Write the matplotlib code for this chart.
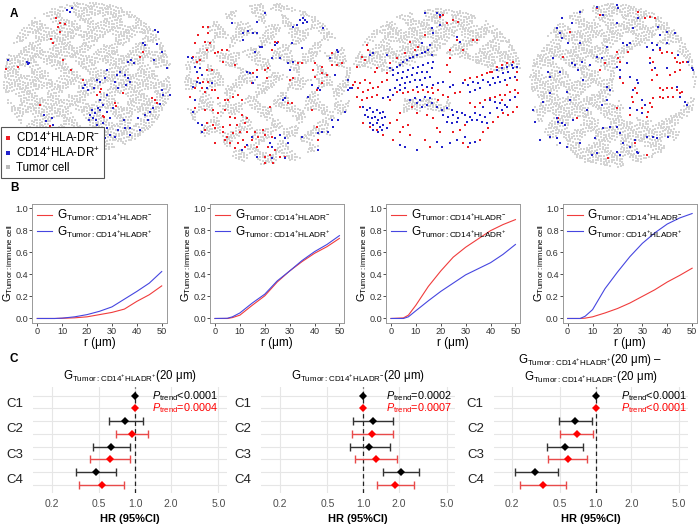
import numpy as np
import matplotlib
matplotlib.use('Agg')
import matplotlib.pyplot as plt
from matplotlib.lines import Line2D

plt.rcParams['font.family'] = ['Liberation Sans', 'DejaVu Sans']
plt.rcParams['mathtext.fontset'] = 'custom'
plt.rcParams['mathtext.rm'] = 'Liberation Sans'
plt.rcParams['mathtext.it'] = 'Liberation Sans:italic'
plt.rcParams['mathtext.bf'] = 'Liberation Sans:bold'

W, H = 698, 528
RED = '#ee1c24'
BLUE = '#2222cc'
GRAY = '#d4d4d4'

# ---------------- Panel A data (cell positions, local tissue units) ----------------
a1_red = [(167,55),(180,70),(195,72),(175,80),(180,95),(153,117),(158,128),(190,180),(212,210),(18,208),(55,200),
          (250,240),(300,275),(292,285),(303,268),(120,315),(345,310),(348,318),(370,280),(420,172),(430,157),
          (455,295),(470,310),(465,300),(312,350),(150,378),(309,348)]
a1_blue = [(200,30),(210,36),(216,24),(465,90),(474,96),(430,130),(436,136),(470,132),(462,180),(486,156),(500,205),
           (24,180),(80,186),(84,192),(88,190),(384,186),(393,180),(402,189),(360,216),(375,225),(384,234),(351,225),
           (390,246),(378,255),(249,264),(264,270),(282,264),(255,255),(291,240),(300,246),(315,234),(321,210),
           (345,246),(354,264),(321,285),(300,300),(309,315),(294,324),(285,339),(279,354),(288,360),(270,345),
           (267,360),(276,330),(300,330),(321,336),(339,324),(330,354),(309,369),(291,375),(321,384),(354,390),
           (375,384),(390,405),(345,411),(315,414),(414,354),(435,345),(450,336),(459,324),(480,312),(444,360),
           (486,270),(489,285),(156,354),(159,375),(132,345),(138,363),(126,390),(165,390),(372,360),(390,384),
           (420,390),(510,285),(330,405),(300,395)]

a2_red = [(85,80),(100,80),(70,105),(100,100),(90,125),(105,130),(60,130),(95,150),(55,170),(65,185),(75,180),(120,160),
          (130,155),(140,150),(155,150),(145,185),(95,210),(110,210),(100,245),(85,245),(70,235),(60,265),(80,265),
          (90,275),(110,270),(120,270),(45,290),(130,295),(150,300),(160,300),(175,290),(190,285),(200,300),(180,195),
          (230,250),(235,220),(245,210),(270,210),(275,235),(290,150),(300,125),(310,125),(280,205),(285,320),(340,310),
          (350,310),(60,325),(90,330),(115,330),(130,340),(150,330),(165,350),(180,355),(200,345),(215,355),(95,370),
          (115,375),(145,380),(165,375),(185,375),(210,370),(90,390),(120,385),(145,395),(155,410),(175,400),(195,395),
          (215,395),(240,395),(265,390),(150,420),(165,430),(190,430),(205,420),(230,420),(250,410),(270,405),(290,410),
          (120,430),(180,445),(210,440),(245,440),(280,440),(300,450),(270,470),(285,465),(295,490),(270,490),(315,470),
          (330,470),(420,190),(415,210),(420,230),(440,200),(470,160),(470,195),(485,195),(500,190),(440,220),(455,225),
          (425,270),(440,250),(425,380),(430,420),(345,240),(355,235),(370,190),(380,190),(410,330)]
a2_blue = [(170,70),(245,65),(270,40),(355,80),(365,75),(375,60),(385,55),(390,60),(385,70),(395,65),(445,85),(485,150),
           (490,155),(465,175),(205,98),(220,92),(235,100),(245,100),(205,120),(255,140),(260,140),(240,155),(300,135),
           (305,130),(350,130),(380,145),(290,175),(315,175),(340,190),(345,210),(355,185),(40,170),(50,175),(60,200),
           (75,205),(65,215),(80,225),(65,245),(75,250),(55,260),(95,265),(110,250),(60,300),(55,335),(70,370),(80,375),
           (80,395),(215,215),(225,220),(245,230),(235,250),(330,295),(325,300),(410,255),(430,265),(435,270),(400,290),
           (480,225),(520,240),(525,265),(520,270),(510,335),(470,360),(490,360),(475,380),(440,395),(430,400),(460,395),
           (430,450),(315,405),(300,415),(330,415),(340,430),(285,430),(290,440),(215,435),(230,410),(330,475),(290,475),
           (245,470),(200,450),(380,410)]

a3_red = [(50,135),(55,150),(20,200),(45,180),(35,170),(75,215),(80,205),(15,245),(30,250),(45,240),(60,250),(25,265),
          (40,275),(55,270),(70,265),(85,260),(95,245),(110,240),(20,290),(35,300),(50,295),(65,290),(80,285),(140,275),
          (160,280),(175,275),(190,270),(205,275),(220,270),(235,275),(250,280),(265,270),(280,285),(295,290),(315,280),
          (330,275),(345,240),(360,235),(380,230),(395,225),(410,220),(425,215),(440,200),(455,195),(470,190),(490,185),
          (500,215),(500,240),(110,220),(120,190),(140,175),(165,160),(195,150),(205,140),(225,105),(290,195),(300,215),
          (300,175),(300,150),(320,120),(340,150),(370,120),(380,120),(420,215),(310,60),(290,70),(325,65),(270,50),
          (280,45),(180,125),(30,320),(40,370),(60,380),(80,390),(100,405),(120,370),(140,360),(150,340),(160,380),
          (175,375),(200,340),(230,345),(250,355),(260,385),(270,395),(225,420),(240,440),(310,395),(330,390),(345,375),
          (340,430),(355,440),(390,420),(400,395),(415,385),(430,365),(445,350),(460,340),(475,345),(490,335),(500,320),
          (495,270),(480,275),(465,285),(450,285),(435,290),(420,295),(405,300),(390,310),(375,320),(360,310),(180,405),
          (150,395),(130,420),(245,265),(265,300),(185,320),(120,300),(10,255),(505,280),(470,255),(455,300)]
a3_blue = [(225,40),(260,40),(270,45),(245,85),(250,100),(270,75),(215,130),(240,135),(330,125),(320,110),
           (120,205),(130,210),(140,200),(150,195),(160,185),(170,180),(180,175),(190,170),(200,165),(215,160),(225,155),
           (235,150),(245,165),(130,225),(145,220),(160,215),(175,210),(190,205),(205,200),(220,195),(235,190),(250,185),
           (140,240),(155,235),(170,230),(185,225),(200,220),(215,215),(230,215),(245,205),(150,255),(165,250),(180,245),
           (195,240),(210,240),(225,235),(240,230),(120,270),(135,265),(150,270),(165,265),(60,165),(70,160),(110,165),
           (200,260),(215,255),(230,260),(250,255),(265,250),(280,245),(300,260),(310,255),(100,295),(115,290),(130,285),
           (180,300),(195,295),(210,300),(225,290),(240,295),(40,320),(50,330),(60,325),(70,335),(80,330),(90,340),
           (100,335),(45,345),(55,350),(65,355),(75,350),(85,360),(95,355),(105,350),(60,370),(70,375),(80,370),(90,380),
           (100,375),(70,390),(85,395),(95,390),(110,385),(200,310),(215,320),(230,315),(245,310),(260,320),(275,330),
           (290,325),(305,330),(320,335),(280,345),(295,350),(310,345),(325,355),(290,365),(305,370),(320,365),(335,340),
           (345,345),(360,350),(375,340),(390,345),(405,350),(350,365),(365,360),(380,360),(395,365),(410,370),(420,340),
           (340,250),(355,255),(370,245),(385,250),(400,240),(415,245),(430,235),(445,230),(460,220),(475,215),(490,205),
           (500,200),(440,210),(455,205),(470,200),(485,195),(420,255),(435,250),(450,245),(465,240),(480,235),(495,230),
           (360,275),(375,270),(390,265),(420,300),(435,305),(450,310),(465,315),(480,300),(495,290),(440,325),(455,330),
           (470,320),(400,320),(150,435),(165,440),(200,450),(260,425),(275,440),(300,430),(320,420),(345,410),(360,430),
           (375,425),(5,265)]

a4_red = [(240,45),(230,25),(355,35),(375,55),(390,50),(405,55),(150,95),(130,170),(255,190),(240,210),(290,155),
          (295,175),(300,185),(325,155),(300,235),(310,250),(345,265),(350,280),(335,290),(340,305),(390,175),(400,185),
          (395,210),(410,225),(420,150),(425,160),(440,155),(455,160),(465,175),(470,185),(480,190),(490,185),(500,185),
          (465,215),(480,210),(420,265),(430,270),(440,265),(455,265),(470,270),(485,275),(400,295),(420,290),(430,295),
          (445,290),(460,290),(480,280),(390,310),(395,320),(385,335),(365,325),(380,350),(290,325),(170,355),(115,355),
          (345,430),(380,465),(265,475),(330,345),(450,225),(395,240)]
a4_blue = [(125,55),(110,85),(155,70),(180,35),(230,20),(290,15),(295,25),(250,45),(290,70),(340,85),(355,55),(415,80),
           (420,105),(440,95),(465,100),(180,130),(145,130),(125,115),(120,100),(100,175),(155,190),(165,195),(185,185),
           (210,195),(260,140),(230,170),(245,175),(310,130),(320,135),(330,130),(290,200),(300,210),(330,230),(350,240),
           (355,250),(340,270),(365,300),(375,315),(330,325),(350,330),(365,340),(395,130),(410,135),(400,150),(420,145),
           (440,130),(475,165),(505,185),(515,205),(520,210),(440,205),(405,205),(480,290),(495,305),(500,315),(85,215),
           (90,230),(120,215),(175,210),(190,240),(90,280),(140,275),(150,300),(70,305),(40,330),(45,365),(110,355),
           (115,365),(125,370),(135,375),(160,360),(90,410),(110,415),(120,430),(140,440),(180,430),(225,415),(250,385),
           (270,380),(290,380),(300,400),(310,430),(330,440),(345,420),(350,455),(355,460),(380,410),(400,410),(410,415),
           (445,410),(215,465),(230,460),(290,455),(300,465),(200,330),(245,315),(260,300),(60,420),(390,190),(380,140),
           (470,260),(260,260),(270,270),(300,230),(320,190)]

# tissue outlines (centre x, centre y, radius x, radius y)
tissue = [(262, 232, 252, 226), (278, 252, 252, 243), (262, 240, 258, 215), (280, 255, 250, 245)]

# ---------------- Panel B data ----------------
r_um = [0, 5, 7, 10, 15, 20, 25, 30, 35, 40, 45, 50]
g_neg = [[0, 0, 0, 0.002, 0.006, 0.015, 0.035, 0.055, 0.085, 0.155, 0.215, 0.295],
         [0, 0, 0.008, 0.03, 0.12, 0.205, 0.33, 0.43, 0.515, 0.59, 0.65, 0.725],
         [0, 0.005, 0.03, 0.12, 0.29, 0.43, 0.555, 0.645, 0.72, 0.795, 0.85, 0.895],
         [0, 0, 0.003, 0.015, 0.05, 0.09, 0.14, 0.20, 0.26, 0.33, 0.39, 0.455]]
g_pos = [[0, 0, 0, 0.003, 0.015, 0.035, 0.065, 0.105, 0.175, 0.245, 0.32, 0.425],
         [0, 0.002, 0.015, 0.05, 0.14, 0.22, 0.34, 0.43, 0.525, 0.605, 0.67, 0.75],
         [0, 0, 0.015, 0.07, 0.16, 0.245, 0.32, 0.395, 0.45, 0.505, 0.58, 0.67],
         [0, 0, 0.02, 0.08, 0.27, 0.42, 0.56, 0.68, 0.775, 0.855, 0.91, 0.95]]

# ---------------- Panel C data ----------------
clusters = ['C1', 'C2', 'C3', 'C4']
hr_black = [[1.0, 0.82, 0.63, 0.47], [1.0, 1.20, 1.12, 2.06], [1.0, 0.67, 0.55, 0.31]]
lo_black = [[1.0, 0.61, 0.44, 0.32], [1.0, 0.82, 0.77, 1.45], [1.0, 0.49, 0.39, 0.21]]
hi_black = [[1.0, 1.16, 0.90, 0.69], [1.0, 1.76, 1.67, 2.93], [1.0, 0.94, 0.78, 0.48]]
hr_red = [[1.0, 0.95, 0.62, 0.53], [1.0, 1.19, 1.28, 1.85], [1.0, 0.70, 0.59, 0.36]]
lo_red = [[1.0, 0.69, 0.42, 0.34], [1.0, 0.80, 0.85, 1.31], [1.0, 0.50, 0.40, 0.23]]
hi_red = [[1.0, 1.28, 0.91, 0.81], [1.0, 1.76, 1.93, 2.68], [1.0, 0.95, 0.85, 0.56]]
p_black = ['<0.0001', '=0.0002', '<0.0001']
p_red = ['=0.0004', '=0.0007', '<0.0001']
hr_ticks = [0.2, 0.5, 1.0, 2.0, 5.0]

fig = plt.figure(figsize=(W / 100, H / 100), dpi=100)


def px_axes(l, t, r, b):
    return fig.add_axes([l / W, 1 - b / H, (r - l) / W, (b - t) / H])


# ---------------- Panel A ----------------
boxes = [(0, 0, 180, 195), (175, 0, 355, 195), (350, 0, 530, 195), (520, 0, 698, 195)]
reds = [a1_red, a2_red, a3_red, a4_red]
blues = [a1_blue, a2_blue, a3_blue, a4_blue]
for k in range(4):
    l, t, r, b = boxes[k]
    ax = px_axes(l, t, r, b)
    ax.set_xlim(0, (r - l) * 3)
    ax.set_ylim((b - t) * 3, 0)
    ax.axis('off')
    ax.patch.set_visible(False)
    cx, cy, rx, ry = tissue[k]
    gx, gy = np.meshgrid(np.arange(cx - rx, cx + rx, 8.0), np.arange(cy - ry, cy + ry, 8.0))
    gx = gx.ravel(); gy = gy.ravel()
    gx = gx + 3 * np.sin(gy * 0.7)
    gy = gy + 3 * np.cos(gx * 0.9)
    inside = ((gx - cx) / rx) ** 2 + ((gy - cy) / ry) ** 2 < 1
    tex = np.sin(gx / 13 + 2 * np.sin(gy / 21)) + np.sin(gy / 12 + 1.5 * np.cos(gx / 17))
    if k == 0:
        keep = inside & (tex > -0.9)
    elif k == 1:
        keep = inside & (tex > 0.0)
    elif k == 2:
        band = gy < 190 + 25 * np.sin(gx / 60)
        band2 = (gy > 295) & (gy < 335) & (gx > 160) & (gx < 300)
        keep = inside & (band | band2) & (tex > -1.0)
    else:
        hole = ((gx - 400) / 120) ** 2 + ((gy - 245) / 115) ** 2 < 1
        keep = inside & ~hole & (tex > -0.9)
    ax.scatter(gx[keep], gy[keep], s=0.9, marker='s', color=GRAY, linewidths=0)
    rr = np.array(reds[k]); bb = np.array(blues[k])
    ax.scatter(rr[:, 0], rr[:, 1], s=2.4, marker='s', color=RED, linewidths=0)
    ax.scatter(bb[:, 0], bb[:, 1], s=2.4, marker='s', color=BLUE, linewidths=0)

handles = [Line2D([], [], ls='', marker='s', ms=2.2, color=RED, mew=0),
           Line2D([], [], ls='', marker='s', ms=2.2, color=BLUE, mew=0),
           Line2D([], [], ls='', marker='s', ms=2.2, color='#bbbbbb', mew=0)]
leg = fig.legend(handles, ['CD14$^{+}$HLA-DR$^{-}$', 'CD14$^{+}$HLA-DR$^{+}$', 'Tumor cell'],
                 loc='upper left', bbox_to_anchor=(0.5 / W, 1 - 127 / H), fontsize=8.3,
                 frameon=True, fancybox=False, edgecolor='#555555', framealpha=1,
                 handlelength=0.6, handletextpad=0.4, borderpad=0.35, labelspacing=0.15,
                 borderaxespad=0)
leg.get_frame().set_linewidth(0.8)

# ---------------- Panel B ----------------
b_lefts = [32.3, 210.0, 386.0, 562.7]
lab_neg = r'$\mathrm{G_{Tumor:CD14^{+}HLADR^{-}}}$'
lab_pos = r'$\mathrm{G_{Tumor:CD14^{+}HLADR^{+}}}$'
for k in range(4):
    l = b_lefts[k]
    ax = px_axes(l, 203.6, l + 134.4, 322.9)
    ax.plot(r_um, g_neg[k], color='#f03c3c', lw=0.8, label=lab_neg)
    ax.plot(r_um, g_pos[k], color='#4646e0', lw=0.8, label=lab_pos)
    ax.set_xlim(-2, 52)
    ax.set_ylim(-0.04, 1.04)
    ax.set_xticks([0, 10, 20, 30, 40, 50])
    ax.set_yticks([0, 0.2, 0.4, 0.6, 0.8, 1.0])
    ax.set_yticklabels(['0.0', '0.2', '0.4', '0.6', '0.8', '1.0'])
    ax.tick_params(labelsize=6.6, colors='#333333', length=2.2, width=0.6, pad=0.6)
    for sp in ax.spines.values():
        sp.set_color('#999999')
        sp.set_linewidth(0.7)
    ax.set_xlabel('r (μm)', fontsize=8.5, labelpad=1)
    ax.set_ylabel(r'$\mathrm{G_{Tumor:immune\ cell}}$', fontsize=7.9)
    ax.yaxis.set_label_coords(-0.125, 0.5)
    ax.legend(loc='upper left', fontsize=8.5, frameon=False, handlelength=1.3,
              handletextpad=0.4, labelspacing=0.1, borderaxespad=0.2, borderpad=0.2)

# ---------------- Panel C ----------------
c_boxes = [(33, 227), (261.3, 455.3), (493.5, 687.5)]
titles = [r'$\mathrm{G_{Tumor:CD14^{+}HLADR^{+}}}$(20 μm)',
          r'$\mathrm{G_{Tumor:CD14^{+}HLADR^{-}}}$(20 μm)',
          r'$\mathrm{G_{Tumor:CD14^{+}HLADR^{+}}}$(20 μm) –' + '\n' + r'$\mathrm{G_{Tumor:CD14^{+}HLADR^{-}}}$(20 μm)']
p_xfrac = [0.955, 0.985, 1.0]
for k in range(3):
    l, r = c_boxes[k]
    ax = px_axes(l, 387, r, 493)
    ax.set_xscale('log')
    ax.set_xlim(0.139, 5.92)
    ax.set_ylim(7.63, -0.68)
    for sp in ax.spines.values():
        sp.set_visible(False)
    for yy in range(8):
        ax.axhline(yy, color='#e6e6e6', lw=0.8, zorder=0)
    for xv in hr_ticks:
        ax.axvline(xv, color='#e6e6e6', lw=0.8, zorder=0)
    ax.axvline(1.0, color='#222222', lw=0.9, ls=(0, (3.5, 2.5)), zorder=1)
    for i in range(4):
        yb, yr = 2 * i, 2 * i + 1
        if hi_black[k][i] > lo_black[k][i]:
            ax.errorbar(hr_black[k][i], yb,
                        xerr=[[hr_black[k][i] - lo_black[k][i]], [hi_black[k][i] - hr_black[k][i]]],
                        fmt='none', ecolor='#333333', elinewidth=1.0, capsize=2.6, capthick=1.0, zorder=2)
        if hi_red[k][i] > lo_red[k][i]:
            ax.errorbar(hr_red[k][i], yr,
                        xerr=[[hr_red[k][i] - lo_red[k][i]], [hi_red[k][i] - hr_red[k][i]]],
                        fmt='none', ecolor='#e84a4a', elinewidth=1.0, capsize=2.6, capthick=1.0, zorder=2)
        ax.plot(hr_black[k][i], yb, marker='D', ms=3.8, color='black', mew=0, zorder=3)
        ax.plot(hr_red[k][i], yr, marker='D', ms=3.8, color='#ff0000', mew=0, zorder=3)
    ax.set_xticks(hr_ticks)
    ax.set_xticklabels(['0.2', '0.5', '1.0', '2.0', '5.0'])
    ax.minorticks_off()
    ax.set_yticks([0.5, 2.5, 4.5, 6.5])
    ax.set_yticklabels(clusters)
    ax.tick_params(axis='x', length=0, labelsize=7.5, colors='#4d4d4d', pad=4)
    ax.tick_params(axis='y', length=0, labelsize=9.5, colors='#222222', pad=7)
    ax.set_xlabel('HR (95%CI)', fontsize=8, fontweight='bold', labelpad=4)
    ax.set_title(titles[k], fontsize=8.3, pad=6 if k < 2 else 5, linespacing=1.1)
    ax.text(p_xfrac[k], 0, r'$\mathit{P}_{\mathrm{trend}}$' + p_black[k], transform=ax.get_yaxis_transform(),
            ha='right', va='center', fontsize=7.8, color='black')
    ax.text(p_xfrac[k], 1, r'$\mathit{P}_{\mathrm{trend}}$' + p_red[k], transform=ax.get_yaxis_transform(),
            ha='right', va='center', fontsize=7.8, color='#ff0000')

# panel letters
for lab, y in [('A', 14), ('B', 188), ('C', 359)]:
    fig.text(10 / W, 1 - y / H, lab, fontsize=8.5, fontweight='bold', va='center', ha='left')

fig.savefig('out.png', dpi=100)
